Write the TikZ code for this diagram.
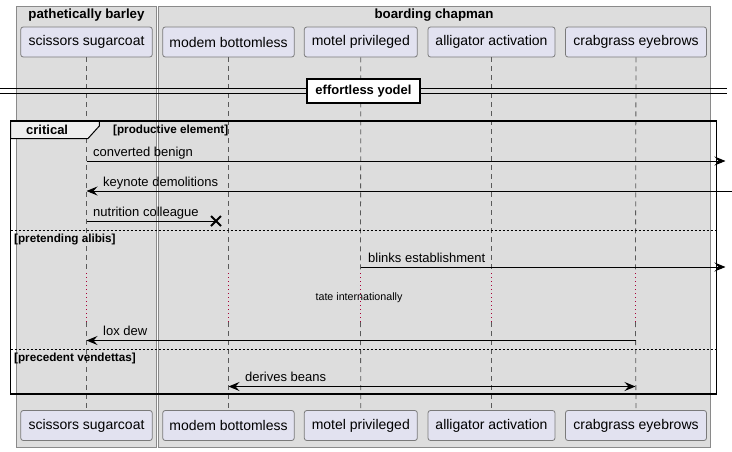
\documentclass[tikz,border=0pt]{standalone}
\usepackage{fontspec}
\setmainfont{Liberation Sans}
\usetikzlibrary{arrows.meta,calc}
\definecolor{grpfill}{HTML}{DDDDDD}
\definecolor{grpline}{HTML}{8A8A8A}
\definecolor{partfill}{HTML}{E2E2F0}
\definecolor{partline}{HTML}{7A7A7A}
\definecolor{lifeln}{HTML}{5A5A5A}
\definecolor{delayred}{HTML}{A80036}
\definecolor{tabfill}{HTML}{EEEEEE}
\tikzset{
  grp/.style={draw=grpline, fill=grpfill, line width=1pt},
  grptitle/.style={font=\fontsize{13.3}{15}\selectfont\bfseries, inner sep=0pt},
  part/.style={draw=partline, fill=partfill, rounded corners=2.5pt, minimum height=30pt, inner sep=0pt, font=\fontsize{14}{16}\selectfont, line width=0.8pt},
  life/.style={draw=lifeln, line width=0.8pt, dash pattern=on 5pt off 4pt},
  delayline/.style={draw=delayred, line width=1.2pt, dash pattern=on 1.2pt off 2.8pt},
  msgline/.style={draw=black, line width=1pt},
  tipR/.style={-{Stealth[length=11pt,width=9pt,inset=4pt]}},
  tipB/.style={{Stealth[length=11pt,width=9pt,inset=4pt]}-{Stealth[length=11pt,width=9pt,inset=4pt]}},
  msg/.style={font=\fontsize{13}{15}\selectfont, inner sep=0pt, anchor=base west},
  cond/.style={font=\fontsize{11.7}{13}\selectfont\bfseries, inner sep=0pt, anchor=base west},
  sepline/.style={draw=black, line width=1pt, dash pattern=on 2pt off 2pt},
}
\begin{document}
\begin{tikzpicture}[x=1pt,y=-1pt]
\useasboundingbox (0,0) rectangle (732,451);
% groups
\draw[grp] (16,6) rectangle (156.5,447);
\node[grptitle] (g1) at (86.5,15) {pathetically barley};
\draw[grp] (158.5,6) rectangle (710.5,447);
\node[grptitle] (g2) at (434,15) {boarding chapman};
% participants top
\node[part, minimum width=131.5pt] (sA) at (86.5,42) {scissors sugarcoat};
\node[part, minimum width=131.5pt] (sB) at (228.5,42) {modem bottomless};
\node[part, minimum width=113pt] (sC) at (360.8,42) {motel privileged};
\node[part, minimum width=127pt] (sD) at (491.5,42) {alligator activation};
\node[part, minimum width=141pt] (sE) at (636,42) {crabgrass eyebrows};
% participants bottom
\node[part, minimum width=131.5pt] (bA) at (86.5,425.5) {scissors sugarcoat};
\node[part, minimum width=131.5pt] (bB) at (228.5,425.5) {modem bottomless};
\node[part, minimum width=113pt] (bC) at (360.8,425.5) {motel privileged};
\node[part, minimum width=127pt] (bD) at (491.5,425.5) {alligator activation};
\node[part, minimum width=141pt] (bE) at (636,425.5) {crabgrass eyebrows};
% lifelines with delay
\foreach \p/\x in {A/86.5,B/228.5,C/360.5,D/491.5,E/635.5}{
  \coordinate (d1\p) at (\x,273);
  \coordinate (d2\p) at (\x,322);
  \draw[life] (s\p.south) -- (d1\p);
  \draw[delayline] (d1\p) -- (d2\p);
  \draw[life] (d2\p) -- (b\p.north);
}
% divider
\coordinate (dvL1) at (0,88);
\coordinate (dvR1) at (727,88);
\coordinate (dvL2) at (0,93);
\coordinate (dvR2) at (727,93);
\draw[line width=1pt] (dvL1) -- (dvR1);
\draw[line width=1pt] (dvL2) -- (dvR2);
\node[draw, fill=white, line width=1.6pt, font=\fontsize{13}{15}\selectfont\bfseries, minimum width=113pt, minimum height=24pt, inner sep=0pt] (div) at (363.5,90.7) {effortless yodel};
% critical frame
\draw[line width=1.8pt] (10.5,121) rectangle (716.5,394);
\draw[line width=1pt, fill=tabfill] (10.5,121) -- (99.3,121) -- (99.3,126) -- (88,138.5) -- (10.5,138.5) -- cycle;
\draw[line width=1.8pt] (10.5,121) -- (716.5,121);
\node[font=\fontsize{13}{15}\selectfont\bfseries, inner sep=0pt, anchor=base west] (crit) at (26,134.5) {critical};
\node[cond] (c1) at (113,133.5) {[productive element]};
% messages
\coordinate (m1a) at (86.5,161); \coordinate (m1b) at (725.5,161);
\draw[msgline, tipR] (m1a) -- (m1b);
\node[msg] (l1) at (93,156) {converted benign};
\coordinate (m2a) at (732,191); \coordinate (m2b) at (86.5,191);
\draw[msgline, tipR] (m2a) -- (m2b);
\node[msg] (l2) at (103,186) {keynote demolitions};
\coordinate (m3a) at (86.5,221); \coordinate (m3b) at (216,221);
\draw[msgline] (m3a) -- (m3b);
\draw[line width=2pt] ($(m3b)+(-5,-5)$) -- ($(m3b)+(5,5)$) ($(m3b)+(-5,5)$) -- ($(m3b)+(5,-5)$);
\node[msg] (l3) at (93,216) {nutrition colleague};
% separator 1
\coordinate (s1a) at (10.5,230); \coordinate (s1b) at (716.5,230);
\draw[sepline] (s1a) -- (s1b);
\node[cond] (c2) at (14,242) {[pretending alibis]};
\coordinate (m4a) at (360.5,267); \coordinate (m4b) at (725.5,267);
\draw[msgline, tipR] (m4a) -- (m4b);
\node[msg] (l4) at (368,262) {blinks establishment};
\node[font=\fontsize{10.7}{13}\selectfont, inner sep=0pt] (dl) at (359,297.5) {tate internationally};
\coordinate (m5a) at (635.5,340.5); \coordinate (m5b) at (86.5,340.5);
\draw[msgline, tipR] (m5a) -- (m5b);
\node[msg] (l5) at (103,335.5) {lox dew};
% separator 2
\coordinate (s2a) at (10.5,349.5); \coordinate (s2b) at (716.5,349.5);
\draw[sepline] (s2a) -- (s2b);
\node[cond] (c3) at (14,361.5) {[precedent vendettas]};
\coordinate (m6a) at (228.5,386.5); \coordinate (m6b) at (635.5,386.5);
\draw[msgline, tipB] (m6a) -- (m6b);
\node[msg] (l6) at (245,381.5) {derives beans};
\end{tikzpicture}
\end{document}
